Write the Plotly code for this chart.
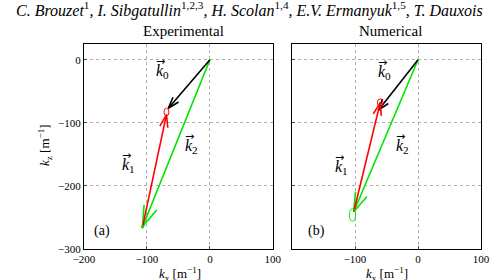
import numpy as np
import plotly.graph_objects as go

# ---------------- data ----------------
panels = ["Experimental", "Numerical"]
panel_tags = ["(a)", "(b)"]
# vectors: start (x,y) -> end (x,y), per panel
k0_start_x = [0, 0]
k0_start_y = [0, 0]
k0_end_x = [-66, -63]
k0_end_y = [-77, -80]
k1_start_x = [-107, -102]
k1_start_y = [-265, -241]
k1_end_x = [-69, -60]
k1_end_y = [-87, -68]
k2_start_x = [0, 0]
k2_start_y = [0, 0]
k2_end_x = [-107, -102]
k2_end_y = [-265, -241]
# uncertainty ellipses (center, semi-axes)
red_ell_cx = [-69, -60]
red_ell_cy = [-83, -68]
red_ell_rx = [4, 4.5]
red_ell_ry = [6, 6]
green_ell_cx = [-107, -104]
green_ell_cy = [-265, -246]
green_ell_rx = [2, 5]
green_ell_ry = [2, 10]
# labels
lab_k0 = [(-75, -19), (-53, -21)]
lab_k1 = [(-129, -167), (-121, -171)]
lab_k2 = [(-30, -138), (-24, -137)]
lab_tag = [(-171, -271), (-161, -271)]
x_ticks_left = [-200, -100, 0, 100]
x_ticks_right = [-100, 0, 100]
y_ticks = [0, -100, -200, -300]
x_range = [-200, 100]
y_range = [-300, 25]

# ---------------- style ----------------
FONT = "Liberation Serif"
GREEN = "#00e600"
RED = "#ff0000"
BLACK = "#000000"
head_len = {"k0": [19, 19], "k1": [21, 21], "k2": [35, 32]}
head_ang = np.deg2rad(18)

fig = go.Figure()
axes = [("x", "y"), ("x2", "y2")]


def arrow(i, sx, sy, ex, ey, color, hl):
    xa, ya = axes[i]
    fig.add_trace(go.Scatter(x=[sx, ex], y=[sy, ey], mode="lines",
                             line=dict(color=color, width=1.6),
                             xaxis=xa, yaxis=ya, showlegend=False, hoverinfo="skip"))
    d = np.array([ex - sx, ey - sy], float)
    d /= np.linalg.norm(d)
    pts_x, pts_y = [], []
    for s in (1, -1):
        c, sn = np.cos(s * head_ang), np.sin(s * head_ang)
        r = np.array([c * d[0] - sn * d[1], sn * d[0] + c * d[1]])
        pts_x += [ex, ex - hl * r[0], None]
        pts_y += [ey, ey - hl * r[1], None]
    fig.add_trace(go.Scatter(x=pts_x, y=pts_y, mode="lines",
                             line=dict(color=color, width=1.6),
                             xaxis=xa, yaxis=ya, showlegend=False, hoverinfo="skip"))


for i in range(2):
    arrow(i, k2_start_x[i], k2_start_y[i], k2_end_x[i], k2_end_y[i], GREEN, head_len["k2"][i])
    arrow(i, k0_start_x[i], k0_start_y[i], k0_end_x[i], k0_end_y[i], BLACK, head_len["k0"][i])
    arrow(i, k1_start_x[i], k1_start_y[i], k1_end_x[i], k1_end_y[i], RED, head_len["k1"][i])
    xa, ya = axes[i]
    fig.add_shape(type="circle", xref=xa, yref=ya,
                  x0=red_ell_cx[i] - red_ell_rx[i], x1=red_ell_cx[i] + red_ell_rx[i],
                  y0=red_ell_cy[i] - red_ell_ry[i], y1=red_ell_cy[i] + red_ell_ry[i],
                  line=dict(color=RED, width=1))
    fig.add_shape(type="circle", xref=xa, yref=ya,
                  x0=green_ell_cx[i] - green_ell_rx[i], x1=green_ell_cx[i] + green_ell_rx[i],
                  y0=green_ell_cy[i] - green_ell_ry[i], y1=green_ell_cy[i] + green_ell_ry[i],
                  line=dict(color=GREEN, width=1),
                  fillcolor=GREEN if i == 0 else "rgba(0,0,0,0)")
    for (lx, ly), sub in zip([lab_k0[i], lab_k1[i], lab_k2[i]], ["0", "1", "2"]):
        fig.add_annotation(x=lx, y=ly, xref=xa, yref=ya, showarrow=False,
                           xanchor="center", yanchor="middle",
                           text="<i>k</i><sub>" + sub + "</sub>",
                           font=dict(family=FONT, size=16, color="black"))
        fig.add_annotation(x=lx, y=ly, xref=xa, yref=ya, showarrow=False,
                           xanchor="center", yanchor="middle",
                           xshift=-2, yshift=10, text="\u2192",
                           font=dict(family="DejaVu Sans", size=11, color="black"))
    fig.add_annotation(x=lab_tag[i][0], y=lab_tag[i][1], xref=xa, yref=ya, showarrow=False,
                       xanchor="center", yanchor="middle",
                       text=panel_tags[i], font=dict(family=FONT, size=14, color="black"))

axis_common = dict(range=x_range, showgrid=True, gridcolor="#b0b0b0", griddash="dot",
                   gridwidth=1, zeroline=False, showline=True, linecolor="black",
                   linewidth=1, mirror=True, ticks="inside", ticklen=3, automargin=False,
                   tickfont=dict(family=FONT, size=11, color="black"))
yaxis_common = dict(range=y_range, showgrid=True, gridcolor="#b0b0b0", griddash="dot",
                    gridwidth=1, zeroline=False, showline=True, linecolor="black",
                    linewidth=1, mirror=True, ticks="inside", ticklen=3, automargin=False,
                    tickvals=y_ticks, tickfont=dict(family=FONT, size=11, color="black"))

fig.update_layout(
    width=497, height=280, margin=dict(l=0, r=0, t=0, b=0, autoexpand=False),
    paper_bgcolor="white", plot_bgcolor="white",
    xaxis=dict(axis_common, domain=[0.169, 0.549], anchor="y", tickvals=x_ticks_left),
    yaxis=dict(yaxis_common, domain=[0.111, 0.843], anchor="x"),
    xaxis2=dict(axis_common, domain=[0.5875, 0.968], anchor="y2", tickvals=x_ticks_right),
    yaxis2=dict(yaxis_common, domain=[0.111, 0.843], anchor="x2", showticklabels=False),
)

# titles
title_txt = ("<i>C. Brouzet</i><sup>1</sup><i>, I. Sibgatullin</i><sup>1,2,3</sup>"
             "<i>, H. Scolan</i><sup>1,4</sup><i>, E.V. Ermanyuk</i><sup>1,5</sup>"
             "<i>, T. Dauxois</i>")
fig.add_annotation(x=14 / 497, y=1 - 10 / 280, xref="paper", yref="paper", xanchor="left",
                   yanchor="middle", showarrow=False, text=title_txt,
                   font=dict(family=FONT, size=16, color="black"))
for xc, name in zip([183 / 497, 390 / 497], panels):
    fig.add_annotation(x=xc, y=1 - 31 / 280, xref="paper", yref="paper", showarrow=False,
                       xanchor="center", yanchor="middle",
                       text=name, font=dict(family=FONT, size=15, color="black"))
for xc in [180 / 497, 387 / 497]:
    fig.add_annotation(x=xc, y=1 - 274 / 280, xref="paper", yref="paper", showarrow=False,
                       xanchor="center", yanchor="middle",
                       text="<i>k</i><sub>x</sub> [m<sup>\u22121</sup>]",
                       font=dict(family=FONT, size=13, color="black"))
fig.add_annotation(x=45 / 497, y=1 - 145 / 280, xref="paper", yref="paper", showarrow=False,
                   xanchor="center", yanchor="middle",
                   textangle=-90, text="<i>k</i><sub>z</sub> [m<sup>\u22121</sup>]",
                   font=dict(family=FONT, size=13, color="black"))

fig.write_html("out.html")
